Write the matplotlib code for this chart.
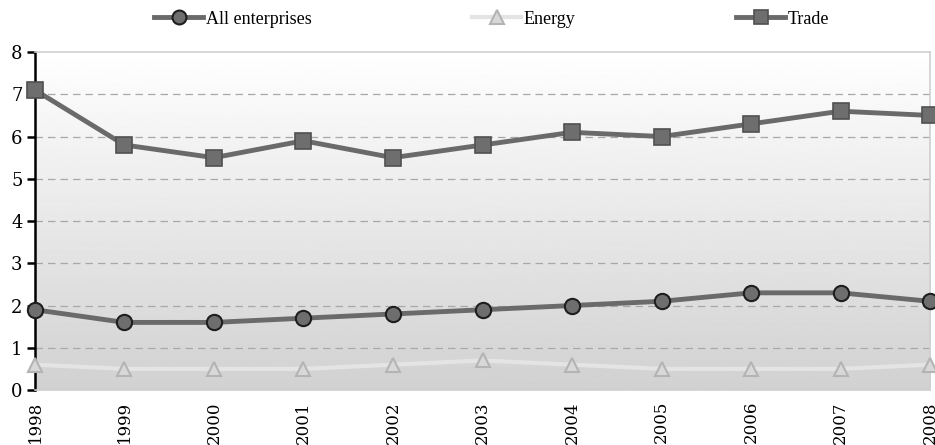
import numpy as np
import matplotlib
matplotlib.use("Agg")
import matplotlib.pyplot as plt
from matplotlib.lines import Line2D

years = ["1998", "1999", "2000", "2001", "2002", "2003", "2004", "2005", "2006", "2007", "2008"]
all_enterprises = [1.9, 1.6, 1.6, 1.7, 1.8, 1.9, 2.0, 2.1, 2.3, 2.3, 2.1]
energy = [0.6, 0.5, 0.5, 0.5, 0.6, 0.7, 0.6, 0.5, 0.5, 0.5, 0.6]
trade = [7.1, 5.8, 5.5, 5.9, 5.5, 5.8, 6.1, 6.0, 6.3, 6.6, 6.5]

fig = plt.figure(figsize=(9.35, 4.45), dpi=100)
ax = fig.add_axes([0.0374, 0.1236, 0.9573, 0.7594])
x = np.arange(len(years))
xmin, xmax = 0, len(years) - 1
ax.set_xlim(xmin, xmax)
ax.set_ylim(0, 8)

# vertical background gradient: white at the top, light grey at the bottom
grad = np.linspace(0.82, 1.0, 256).reshape(-1, 1)
ax.imshow(grad, cmap="gray", vmin=0, vmax=1, origin="lower", aspect="auto",
          extent=[xmin, xmax, 0, 8], zorder=0)

for v in range(1, 8):
    ax.axhline(v, color="#a8a8a8", lw=0.9, ls=(0, (6, 4)), zorder=1)

ax.plot(x, energy, color="#e4e4e4", lw=3, marker="^", ms=10,
        mfc="#d8d8d8", mec="#b4b4b4", mew=1.5, zorder=3, clip_on=False)
ax.plot(x, all_enterprises, color="#6a6a6a", lw=3.5, marker="o", ms=11,
        mfc="#6e6e6e", mec="#1e1e1e", mew=1.5, zorder=4, clip_on=False)
ax.plot(x, trade, color="#6a6a6a", lw=3.5, marker="s", ms=11,
        mfc="#6e6e6e", mec="#505050", mew=1.2, zorder=4, clip_on=False)

for side in ["top", "right", "bottom"]:
    ax.spines[side].set_color("#cfcfcf")
    ax.spines[side].set_linewidth(1.2)
ax.spines["left"].set_color("black")
ax.spines["left"].set_linewidth(1.8)

ax.set_yticks(range(0, 9))
ax.set_xticks(x)
ax.set_xticklabels(years, rotation=90, family="DejaVu Serif", fontsize=12)
ax.tick_params(axis="x", length=0, pad=8)
ax.tick_params(axis="y", length=6, width=1.8, color="black", pad=3)
for lab in ax.get_yticklabels():
    lab.set_family("DejaVu Serif")
    lab.set_fontsize(13)

handles = [
    Line2D([], [], color="#6a6a6a", lw=3.5, marker="o", ms=10,
           mfc="#6e6e6e", mec="#1e1e1e", mew=1.5),
    Line2D([], [], color="#e4e4e4", lw=3, marker="^", ms=10,
           mfc="#d8d8d8", mec="#b4b4b4", mew=1.5),
    Line2D([], [], color="#6a6a6a", lw=3.5, marker="s", ms=10,
           mfc="#6e6e6e", mec="#505050", mew=1.2),
]
fig.legend(handles, ["All enterprises", "Energy", "Trade"], loc="center",
           bbox_to_anchor=(0.526, 1 - 19 / 445), ncol=3, frameon=False,
           columnspacing=8.9, handlelength=2.7, handletextpad=0.15,
           borderpad=0, prop={"family": "Liberation Serif", "size": 13})

fig.savefig("out.png", dpi=100)
